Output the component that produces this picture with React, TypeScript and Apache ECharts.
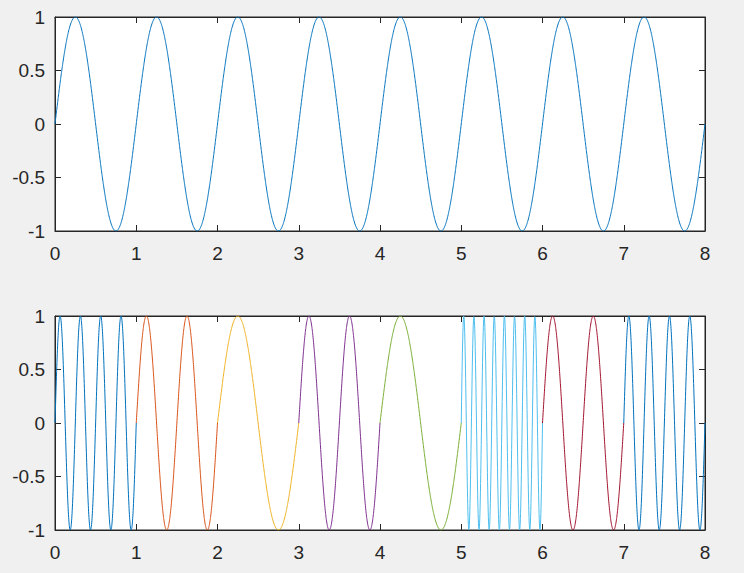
import React, { useEffect, useRef } from "react";
import * as echarts from "echarts";

// Top subplot: single sine of frequency (Hz) over 0..8
const topFrequency = 1;
const topRange = [0, 8];

// Bottom subplot: one-second segments, each with its own frequency (Hz)
const segmentStarts = [0, 1, 2, 3, 4, 5, 6, 7];
const segmentFrequencies = [4, 2, 1, 2, 1, 8, 2, 4];
const segmentColors = ["#0072BD", "#D95319", "#EDB120", "#7E2F8E", "#77AC30", "#4DBEEE", "#A2142F", "#0072BD"];

// Tick labels
const xTicks = [0, 1, 2, 3, 4, 5, 6, 7, 8];
const yTicks = [-1, -0.5, 0, 0.5, 1];

const STEP = 0.002;

function sineSamples(t0: number, t1: number, f: number): number[][] {
  const pts: number[][] = [];
  const n = Math.round((t1 - t0) / STEP);
  for (let i = 0; i <= n; i++) {
    const t = t0 + i * STEP;
    pts.push([t, Math.sin(2 * Math.PI * f * t)]);
  }
  return pts;
}

const TXT = "#262626";
const FONT = "'Liberation Sans', Arial, Helvetica, sans-serif";

function axesFor(gridIndex: number) {
  const common = {
    gridIndex,
    axisLine: { show: true, onZero: false, lineStyle: { color: TXT, width: 1 } },
    axisTick: { show: true, inside: true, length: 6, lineStyle: { color: TXT, width: 1 } },
    splitLine: { show: false },
  };
  const x = [
    {
      ...common,
      type: "value",
      position: "bottom",
      min: xTicks[0],
      max: xTicks[xTicks.length - 1],
      interval: 1,
      axisLabel: { show: true, color: TXT, fontSize: 19, fontFamily: FONT, margin: 13 },
    },
    {
      ...common,
      type: "value",
      position: "top",
      min: xTicks[0],
      max: xTicks[xTicks.length - 1],
      interval: 1,
      axisLabel: { show: false },
    },
  ];
  const y = [
    {
      ...common,
      type: "value",
      position: "left",
      min: yTicks[0],
      max: yTicks[yTicks.length - 1],
      interval: 0.5,
      axisLabel: { show: true, color: TXT, fontSize: 19, fontFamily: FONT, margin: 10 },
    },
    {
      ...common,
      type: "value",
      position: "right",
      min: yTicks[0],
      max: yTicks[yTicks.length - 1],
      interval: 0.5,
      axisLabel: { show: false },
    },
  ];
  return { x, y };
}

export default function App() {
  const ref = useRef<HTMLDivElement>(null);
  useEffect(() => {
    if (!ref.current) return;
    const chart = echarts.init(ref.current, undefined, { renderer: "svg" });
    const a0 = axesFor(0);
    const a1 = axesFor(1);
    const series: any[] = [
      {
        type: "line",
        xAxisIndex: 0,
        yAxisIndex: 0,
        data: sineSamples(topRange[0], topRange[1], topFrequency),
        showSymbol: false,
        lineStyle: { color: "#0072BD", width: 1 },
        silent: true,
      },
    ];
    segmentStarts.forEach((s, i) => {
      series.push({
        type: "line",
        xAxisIndex: 2,
        yAxisIndex: 2,
        data: sineSamples(s, s + 1, segmentFrequencies[i]),
        showSymbol: false,
        lineStyle: { color: segmentColors[i], width: 1 },
        silent: true,
      });
    });
    chart.setOption({
      animation: false,
      backgroundColor: "#F0F0F0",
      textStyle: { fontFamily: FONT },
      grid: [
        { left: 55, top: 17, width: 650, height: 214, show: true, backgroundColor: "#FFFFFF", borderColor: TXT, borderWidth: 1 },
        { left: 55, top: 316, width: 650, height: 214, show: true, backgroundColor: "#FFFFFF", borderColor: TXT, borderWidth: 1 },
      ],
      xAxis: [...a0.x, ...a1.x],
      yAxis: [...a0.y, ...a1.y],
      series,
    });
    return () => chart.dispose();
  }, []);
  return (
    <div
      ref={ref}
      style={{ position: "fixed", left: 0, top: 0, width: 744, height: 573 }}
    />
  );
}
